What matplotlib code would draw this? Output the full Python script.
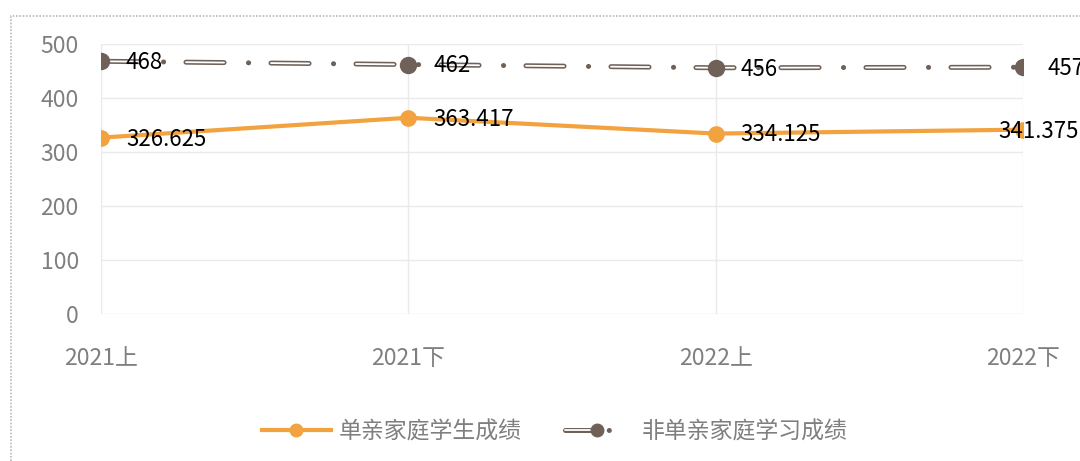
import matplotlib
matplotlib.use("Agg")
import matplotlib.pyplot as plt
from matplotlib.lines import Line2D
from matplotlib.patches import Rectangle
from matplotlib.legend_handler import HandlerLine2D

plt.rcParams['font.family'] = ['Noto Sans CJK SC', 'DejaVu Sans']
plt.rcParams['lines.scale_dashes'] = False

categories = ['2021上', '2021下', '2022上', '2022下']
single_parent = [326.625, 363.417, 334.125, 341.375]
non_single_parent = [468, 462, 456, 457]
single_labels = ['326.625', '363.417', '334.125', '341.375']
non_single_labels = ['468', '462', '456', '457']
yticks = [0, 100, 200, 300, 400, 500]
series_names = ['单亲家庭学生成绩', '非单亲家庭学习成绩']

ORANGE = '#F2A23E'
DARK = '#6F6158'
GRID = '#EAEAEA'
TICK = '#7F7F7F'


class DoubleLineHandler(HandlerLine2D):
    def create_artists(self, legend, orig_handle, xdescent, ydescent,
                       width, height, fontsize, trans):
        ydata = height / 2 - ydescent
        x0 = -xdescent
        outer = Line2D([x0, x0 + width], [ydata, ydata], color=DARK, lw=3.6,
                       ls=(0, (21, 10.5, 0.1, 100)), dash_capstyle='round')
        inner = Line2D([x0, x0 + width], [ydata, ydata], color='white', lw=1.3,
                       ls=(0, (21, 110.6)), dash_capstyle='round')
        mk = Line2D([x0 + width * 0.46], [ydata], ls='none', marker='o',
                    ms=9, color=DARK)
        for a in (outer, inner, mk):
            a.set_transform(trans)
        return [outer, inner, mk]


fig = plt.figure(figsize=(10.8, 4.61), dpi=100)
ax = fig.add_axes([101/1080, 1-314/461, (1023-101)/1080, (314-44)/461])

x = list(range(len(categories)))

# orange series
ax.plot(x, single_parent, color=ORANGE, lw=3, solid_capstyle='round', zorder=3)
ax.plot(x, single_parent, ls='none', marker='o', ms=11, color=ORANGE, zorder=4)

# dark double-line long-dash-dot series
outer_pat = (0, (27.4, 17.6, 0.1, 16.1))
inner_pat = (0, (27.4, 33.8))
ax.plot(x, non_single_parent, color=DARK, lw=3.6, ls=outer_pat,
        dash_capstyle='round', zorder=3)
ax.plot(x, non_single_parent, color='white', lw=1.3, ls=inner_pat,
        dash_capstyle='round', zorder=3.1)
ax.plot(x, non_single_parent, ls='none', marker='o', ms=11.5, color=DARK, zorder=4)

# data labels
for i, (v, t) in enumerate(zip(non_single_parent, non_single_labels)):
    ax.annotate(t, (x[i], v), xytext=(18, -1), textcoords='offset points',
                ha='left', va='center', fontsize=16, color='black',
                zorder=5, annotation_clip=False)
for i, (v, t) in enumerate(zip(single_parent, single_labels)):
    dx = 18 if i < len(x) - 1 else -18
    ax.annotate(t, (x[i], v), xytext=(dx, -1), textcoords='offset points',
                ha='left', va='center', fontsize=16, color='black',
                zorder=5, annotation_clip=False)

ax.set_xlim(0, 3)
ax.set_ylim(0, 500)
ax.set_yticks(yticks)
ax.set_xticks(x)
ax.set_xticklabels(categories)
ax.tick_params(axis='both', length=0, labelsize=16.5, labelcolor=TICK)
ax.tick_params(axis='y', pad=16)
ax.tick_params(axis='x', pad=24)
ax.grid(True, color=GRID, lw=1)
ax.set_axisbelow(True)
for s in ax.spines.values():
    s.set_visible(False)

# legend
h1 = Line2D([], [], color=ORANGE, lw=3, marker='o', ms=9)
h2 = Line2D([], [], color=DARK, lw=3.6, marker='o', ms=9)
leg = fig.legend([h1, h2], series_names,
                 handler_map={h2: DoubleLineHandler()},
                 loc='center', bbox_to_anchor=(555/1080, 1-432/461),
                 ncol=2, frameon=False, fontsize=16.5, handlelength=3,
                 handletextpad=0.35, columnspacing=1.9, labelcolor=TICK)

# dotted outer border
fig.patches.append(Rectangle((11/1080, -0.1), 1.2, 1.1 - 16/461,
                             transform=fig.transFigure, fill=False,
                             ec='#B8B8B8', lw=1.2, ls=(0, (1.2, 1.2)),
                             figure=fig))

fig.savefig('out.png', dpi=100)
